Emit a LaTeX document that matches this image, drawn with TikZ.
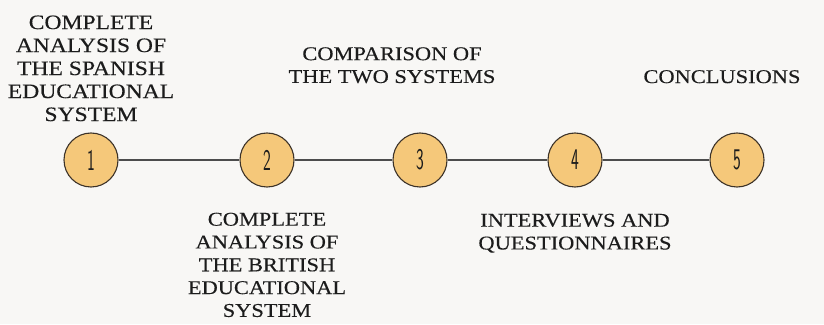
\documentclass[tikz,border=0pt]{standalone}
\usepackage{fontspec}
\setmainfont{Liberation Serif}[FakeStretch=1.15, FakeBold=0.3]
\usepackage{graphicx}
\usetikzlibrary{positioning}
\definecolor{paper}{RGB}{248,247,245}
\definecolor{stagefill}{RGB}{245,200,122}
\definecolor{stagedraw}{RGB}{60,50,40}
\definecolor{ink}{RGB}{28,28,28}
\newcommand{\narrow}[1]{\scalebox{0.55}[1]{#1}}

\begin{document}
\begin{tikzpicture}[
  x=1pt, y=1pt,
  stage/.style={circle, draw=stagedraw, fill=stagefill, line width=1.1pt,
                minimum size=54pt, inner sep=0pt, text=ink,
                font=\fontsize{30}{30}\sffamily},
  lbl/.style={align=center, inner sep=0pt, text=ink,
              font=\fontsize{19.5}{22.8}\selectfont},
  link/.style={line width=1.6pt, draw=black!70}
]
  \useasboundingbox[fill=paper] (0,0) rectangle (824,324);

  % stages on the time line
  \node[stage] (c1) at (91,164)  {\narrow{1}};
  \node[stage] (c2) at (267,164) {\narrow{2}};
  \node[stage] (c3) at (420,164) {\narrow{3}};
  \node[stage] (c4) at (575,164) {\narrow{4}};
  \node[stage] (c5) at (737,164) {\narrow{5}};

  % connecting line
  \foreach \i/\j in {1/2,2/3,3/4,4/5} {
    \draw[link] (c\i) -- (c\j);
  }

  % labels
  \node[lbl, font=\fontsize{20.5}{23}\selectfont] (l1) [above=11pt of c1] {COMPLETE\\ANALYSIS OF\\THE SPANISH\\EDUCATIONAL\\SYSTEM};
  \node[lbl] (l2) [below=25pt of c2] {COMPLETE\\ANALYSIS OF\\THE BRITISH\\EDUCATIONAL\\SYSTEM};
  \node[lbl] (l3) [above=49pt of c3, xshift=-28pt] {COMPARISON OF\\THE TWO SYSTEMS};
  \node[lbl] (l4) [below=26pt of c4] {INTERVIEWS AND\\QUESTIONNAIRES};
  \node[lbl] (l5) [above=49pt of c5, xshift=-15pt] {CONCLUSIONS};
\end{tikzpicture}
\end{document}
